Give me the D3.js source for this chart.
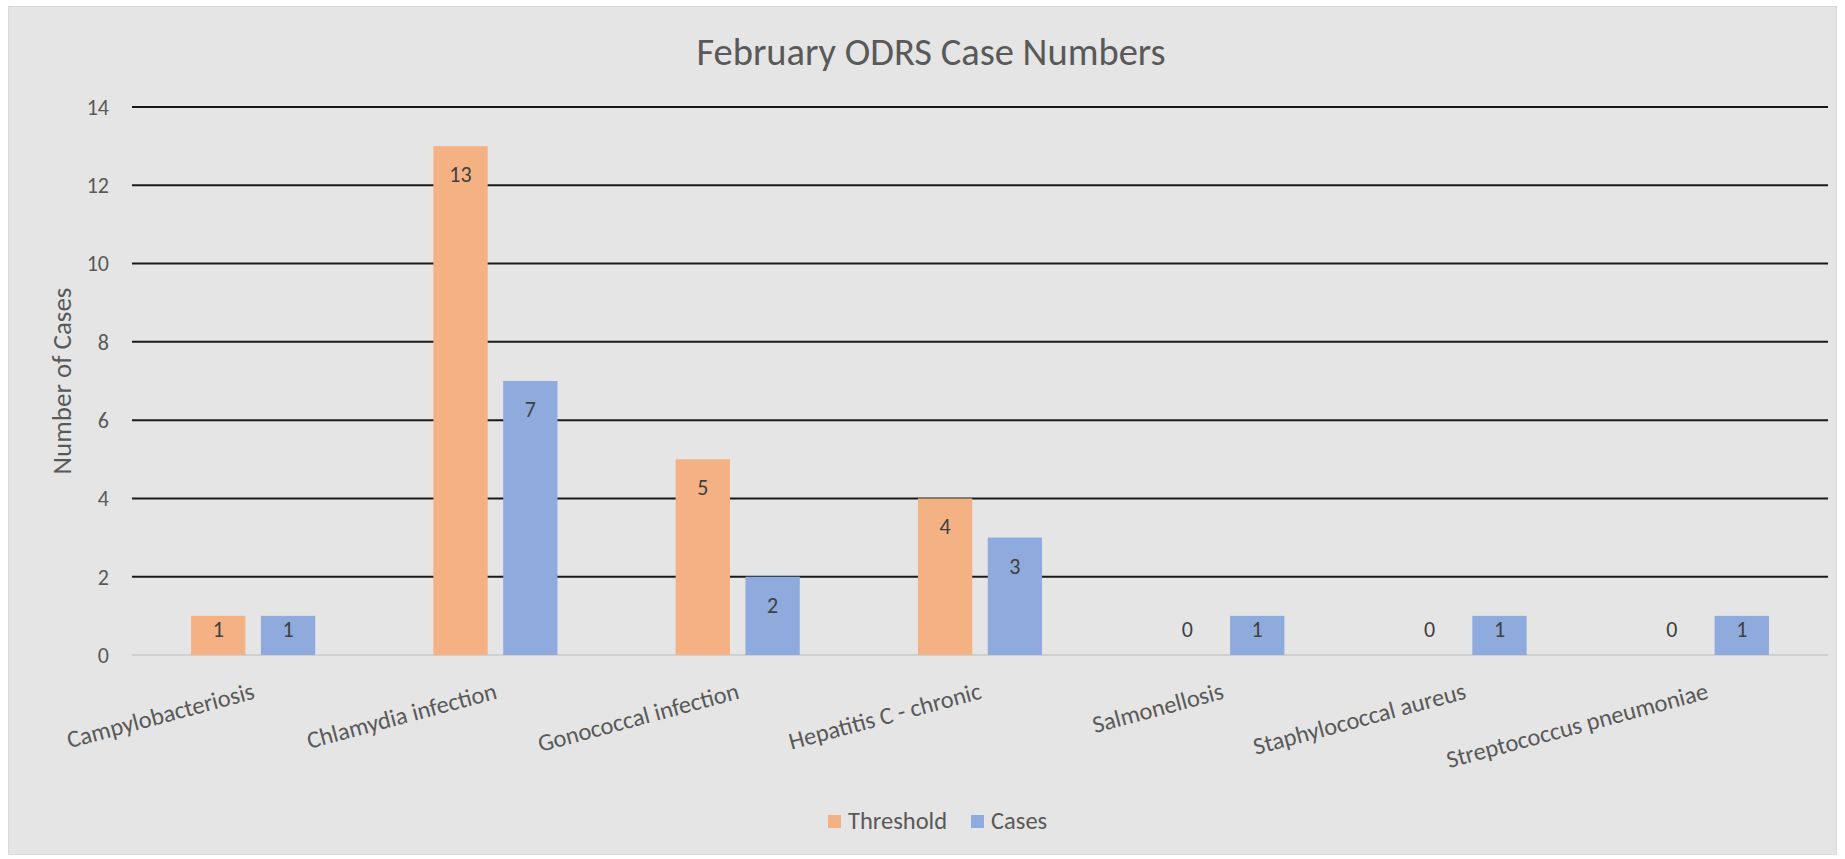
<!DOCTYPE html>
<html>
<head>
<meta charset="utf-8">
<script src="https://cdn.jsdelivr.net/npm/d3@7"></script>
<style>
    body { margin: 0; background: #ffffff; }
    text { font-family: Calibri, Carlito, Lato, sans-serif; }
</style>
</head>
<body>
<div id="chart"></div>
<script>
// chart data
var categories = ["Campylobacteriosis", "Chlamydia infection", "Gonococcal infection",
    "Hepatitis C - chronic", "Salmonellosis", "Staphylococcal aureus", "Streptococcus pneumoniae"];
var series_names = ["Threshold", "Cases"];
var threshold = [1, 13, 5, 4, 0, 0, 0];
var cases = [1, 7, 2, 3, 1, 1, 1];
var y_ticks = [0, 2, 4, 6, 8, 10, 12, 14];

var colors = {"Threshold": "#f4b183", "Cases": "#8faadc"};

var width = 1845;
var height = 859;
var margin = {top: 107, right: 17, bottom: 204, left: 132};

var svg = d3.select("#chart").append("svg")
    .attr("width", width)
    .attr("height", height);

// chart area background and border
svg.append("rect")
    .attr("x", 8.5).attr("y", 6.5)
    .attr("width", 1828).attr("height", 848)
    .attr("fill", "#e5e5e5")
    .attr("stroke", "#d9d9d9")
    .attr("stroke-width", 1);

var x = d3.scaleBand()
    .domain(categories)
    .range([margin.left, width - margin.right]);

var x_inner = d3.scaleBand()
    .domain(series_names)
    .range([0, x.bandwidth()])
    .paddingInner(0.222)
    .paddingOuter(0.846);

var y = d3.scaleLinear()
    .domain([0, 14])
    .range([height - margin.bottom, margin.top]);

// gridlines (the zero line is the light axis line)
svg.append("g")
    .selectAll("line")
    .data(y_ticks)
    .enter().append("line")
    .attr("x1", margin.left)
    .attr("x2", width - margin.right)
    .attr("y1", function(d) { return y(d); })
    .attr("y2", function(d) { return y(d); })
    .attr("stroke", function(d) { return d === 0 ? "#d0d0d0" : "#1a1a1a"; })
    .attr("stroke-width", 2);

// y tick labels
svg.append("g")
    .selectAll("text")
    .data(y_ticks)
    .enter().append("text")
    .attr("x", 109)
    .attr("y", function(d) { return y(d); })
    .attr("dy", "0.36em")
    .attr("text-anchor", "end")
    .attr("font-size", 22)
    .attr("fill", "#595959")
    .text(function(d) { return d; });

// one row per category, one bar per series
var rows = categories.map(function(c, i) {
    return [
        {cat: c, key: "Threshold", value: threshold[i]},
        {cat: c, key: "Cases", value: cases[i]}
    ];
});

var groups = svg.append("g")
    .selectAll("g")
    .data(rows)
    .enter().append("g")
    .attr("transform", function(d) { return "translate(" + x(d[0].cat) + ",0)"; });

groups.selectAll("rect")
    .data(function(d) { return d.filter(function(b) { return b.value > 0; }); })
    .enter().append("rect")
    .attr("x", function(d) { return x_inner(d.key); })
    .attr("y", function(d) { return y(d.value); })
    .attr("width", x_inner.bandwidth())
    .attr("height", function(d) { return y(0) - y(d.value); })
    .attr("fill", function(d) { return colors[d.key]; });

// data labels, inside end (short bars get pushed down to sit above the axis)
groups.selectAll("text")
    .data(function(d) { return d; })
    .enter().append("text")
    .attr("x", function(d) { return x_inner(d.key) + x_inner.bandwidth() / 2; })
    .attr("y", function(d) { return Math.min(y(d.value) + 36, y(0) - 18); })
    .attr("text-anchor", "middle")
    .attr("font-size", 22)
    .attr("fill", "#404040")
    .text(function(d) { return d.value; });

// category labels, tilted
svg.append("g")
    .selectAll("text")
    .data(categories)
    .enter().append("text")
    .attr("transform", function(d) {
        return "translate(" + (x(d) + x.bandwidth() / 2 - 2) + ",681) rotate(-15)";
    })
    .attr("y", 18)
    .attr("text-anchor", "end")
    .attr("font-size", 24.4)
    .attr("fill", "#595959")
    .text(function(d) { return d; });

// axis title
svg.append("text")
    .attr("transform", "translate(71," + ((y(0) + y(14)) / 2) + ") rotate(-90)")
    .attr("text-anchor", "middle")
    .attr("font-size", 27)
    .attr("fill", "#595959")
    .text("Number of Cases");

// chart title
svg.append("text")
    .attr("x", 931)
    .attr("y", 65)
    .attr("text-anchor", "middle")
    .attr("font-size", 38.5)
    .attr("fill", "#595959")
    .text("February ODRS Case Numbers");

// legend
var legend_x = [828, 971];
var legend = svg.append("g")
    .selectAll("g")
    .data(series_names)
    .enter().append("g")
    .attr("transform", function(d, i) { return "translate(" + legend_x[i] + ",815)"; });

legend.append("rect")
    .attr("width", 13)
    .attr("height", 13)
    .attr("fill", function(d) { return colors[d]; });

legend.append("text")
    .attr("x", 20)
    .attr("y", 14)
    .attr("font-size", 24.5)
    .attr("fill", "#595959")
    .text(function(d) { return d; });
</script>
</body>
</html>
